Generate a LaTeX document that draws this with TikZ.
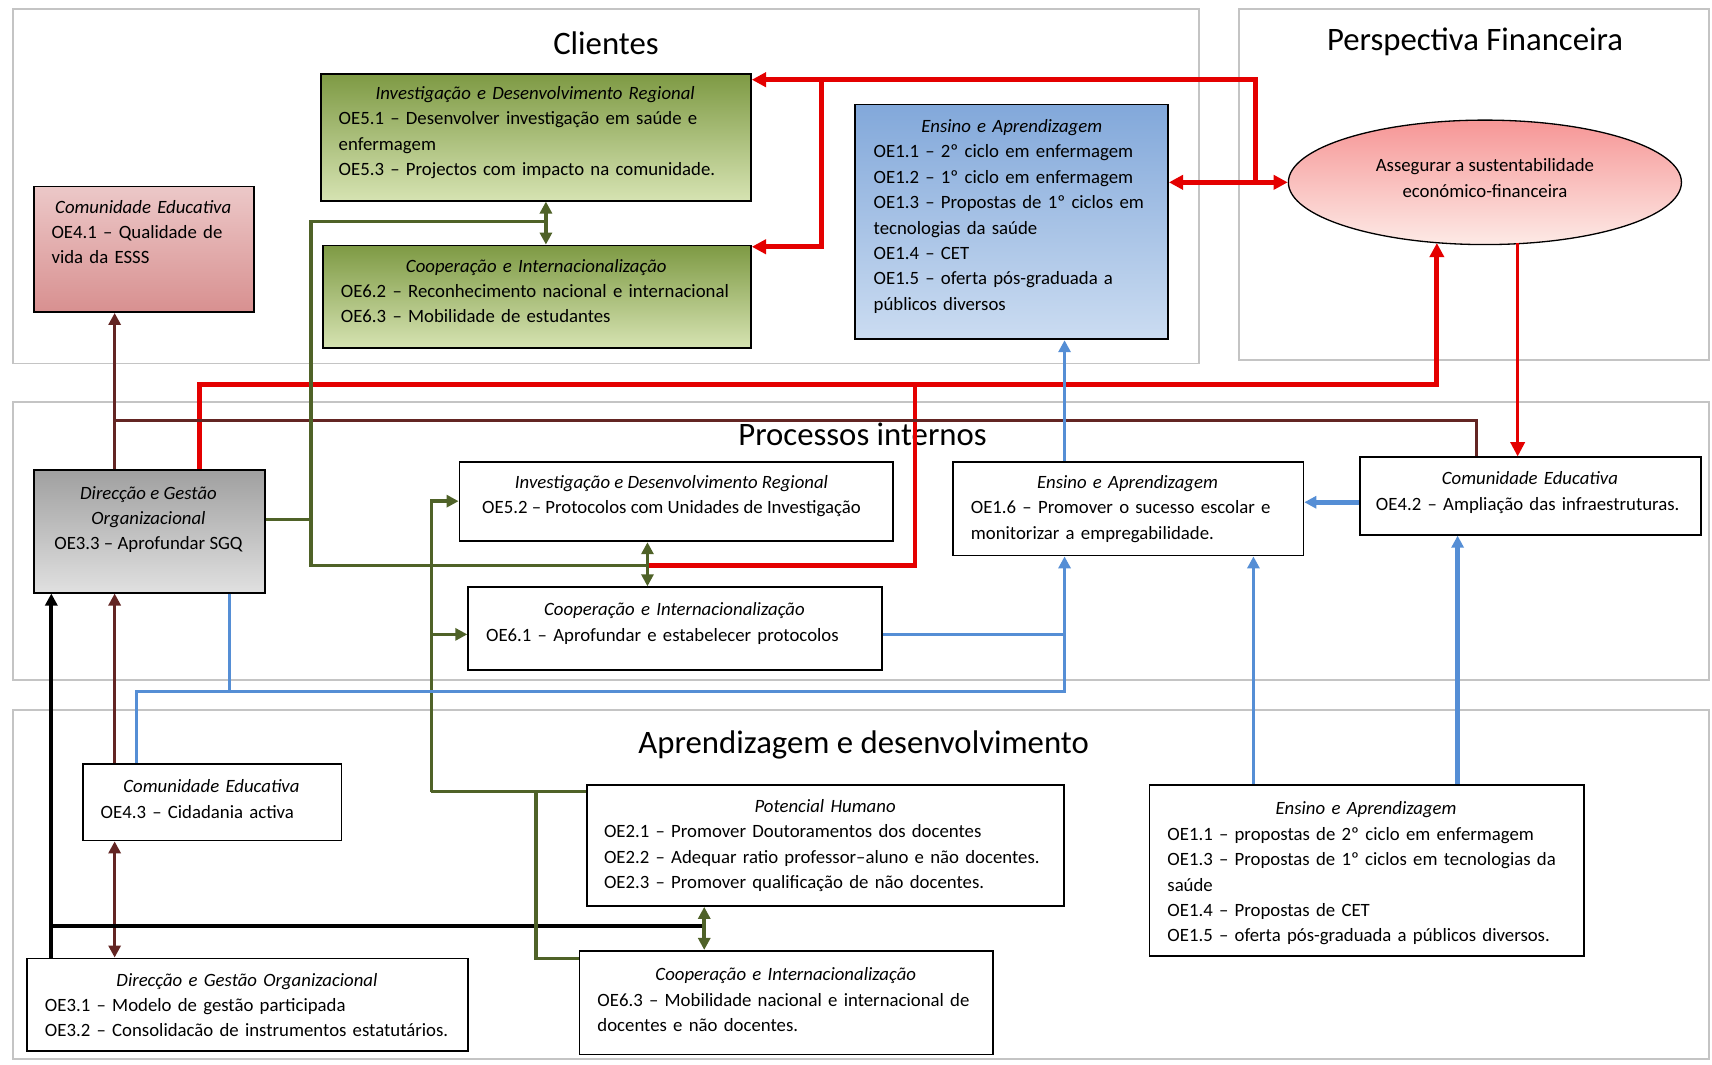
\documentclass[tikz,border=0pt]{standalone}
\usepackage{fontspec}
\setmainfont{Carlito}
\usetikzlibrary{arrows.meta,shapes.geometric,calc}
\definecolor{cred}{RGB}{228,0,0}
\definecolor{cmar}{RGB}{99,37,35}
\definecolor{cgrn}{RGB}{79,98,40}
\definecolor{cblu}{RGB}{85,142,213}
\definecolor{gtop}{RGB}{126,154,68}
\definecolor{gbot}{RGB}{214,227,178}
\definecolor{btop}{RGB}{130,168,218}
\definecolor{bbot}{RGB}{203,220,241}
\definecolor{ptop}{RGB}{236,200,200}
\definecolor{pbot}{RGB}{216,144,144}
\definecolor{gytop}{RGB}{160,160,160}
\definecolor{gybot}{RGB}{224,224,224}
\definecolor{etop}{RGB}{246,150,150}
\definecolor{ebot}{RGB}{253,234,230}
\definecolor{cpan}{RGB}{196,196,196}
\newcommand\mybody{\fontsize{17.2}{23.3}\selectfont}
\newcommand\myhead{\fontsize{30}{34}\selectfont}
\begin{document}
\begin{tikzpicture}[x=1pt,y=-1pt,
  panel/.style={draw=cpan,line width=1.5pt},
  ptitle/.style={font=\myhead,inner sep=0pt},
  box/.style={draw=black,line width=1.6pt,anchor=north west,inner sep=0pt},
  txt/.style={anchor=north west,inner sep=0pt,align=left,font=\mybody},
  ctxt/.style={anchor=north,inner sep=0pt,align=center,font=\mybody},
  redthick/.style={draw=cred,line width=4.5pt},
  redthin/.style={draw=cred,line width=2.6pt},
  mar/.style={draw=cmar,line width=3pt},
  blk/.style={draw=black,line width=3.6pt},
  grn/.style={draw=cgrn,line width=3.2pt},
  blu/.style={draw=cblu,line width=2.8pt},
  bluthick/.style={draw=cblu,line width=4.2pt},
  tip/.style={-{Triangle[length=11pt,width=11pt]}},
  tips/.style={{Triangle[length=11pt,width=11pt]}-{Triangle[length=11pt,width=11pt]}},
  rtip/.style={-{Triangle[length=13pt,width=13pt]}},
  rtips/.style={{Triangle[length=13pt,width=13pt]}-{Triangle[length=13pt,width=13pt]}}]
\useasboundingbox[fill=white] (0,0) rectangle (1568,975);

% panels
\draw[panel] (12,8) rectangle (1098,333);
\draw[panel] (1135,8) rectangle (1565,330);
\draw[panel] (12,368) rectangle (1565,623);
\draw[panel] (12,650) rectangle (1565,970);
\node[ptitle] (tcli) at (555,40) {Clientes};
\node[ptitle] (tfin) at (1351,38) {Perspectiva Financeira};
\node[ptitle] (tpro) at (790,398) {Processos internos};
\node[ptitle] (tapr) at (791,682) {Aprendizagem e desenvolvimento};

% ---------- Clientes
\node[box,top color=ptop,bottom color=pbot,minimum width=202pt,minimum height=115pt] (ce1) at (30,170) {};
\node[txt,text width=168pt] (tce1) at (47,183) {\makebox[\linewidth]{\itshape Comunidade Educativa}\\OE4.1 – Qualidade de\\vida da ESSS};

\node[box,top color=gtop,bottom color=gbot,minimum width=394pt,minimum height=116pt] (cinv) at (293,67) {};
\node[txt,text width=360pt] (tcinv) at (310,79) {\makebox[\linewidth]{\itshape Investigação e Desenvolvimento Regional}\\OE5.1 – Desenvolver investigação em saúde e\\enfermagem\\OE5.3 – Projectos com impacto na comunidade.};

\node[box,top color=gtop,bottom color=gbot,minimum width=392pt,minimum height=94pt] (ccoop) at (295,224) {};
\node[txt,text width=358pt] (tccoop) at (312,237) {\makebox[\linewidth]{\itshape Cooperação e Internacionalização}\\OE6.2 – Reconhecimento nacional e internacional\\OE6.3 – Mobilidade de estudantes};

\node[box,top color=btop,bottom color=bbot,minimum width=287pt,minimum height=215pt] (cens) at (782,95) {};
\node[txt,text width=253pt] (tcens) at (800,109) {\makebox[\linewidth]{\itshape Ensino e Aprendizagem}\\OE1.1 – 2º ciclo em enfermagem\\OE1.2 – 1º ciclo em enfermagem\\\makebox[\linewidth][s]{OE1.3 – Propostas de 1º ciclos em}\\tecnologias da saúde\\OE1.4 – CET\\\makebox[\linewidth][s]{OE1.5 – oferta pós-graduada a}\\públicos diversos};

\node[ellipse,draw=black,line width=1.2pt,top color=etop,bottom color=ebot,minimum width=360pt,minimum height=114pt,inner sep=0pt] (ell) at (1360,167) {};
\node[ctxt] (tell) at (1360,145) {Assegurar a sustentabilidade\\económico-financeira};

% ---------- Processos internos
\node[box,top color=gytop,bottom color=gybot,minimum width=212pt,minimum height=112pt] (dgo) at (30,430) {};
\node[ctxt] (tdgo) at (136,445) {\itshape Direcção e Gestão\\\itshape Organizacional\\OE3.3 – Aprofundar SGQ};

\node[box,fill=white,minimum width=397pt,minimum height=73pt] (pinv) at (420,422) {};
\node[ctxt] (tpinv) at (615,435) {\itshape Investigação e Desenvolvimento Regional\\OE5.2 – Protocolos com Unidades de Investigação};

\node[box,fill=white,minimum width=379pt,minimum height=76pt] (pcoop) at (428,537) {};
\node[txt,text width=345pt] (tpcoop) at (445,552) {\makebox[\linewidth]{\itshape Cooperação e Internacionalização}\\OE6.1 – Aprofundar e estabelecer protocolos};

\node[box,fill=white,minimum width=321pt,minimum height=86pt] (pens) at (872,422) {};
\node[txt,text width=287pt] (tpens) at (889,435) {\makebox[\linewidth]{\itshape Ensino e Aprendizagem}\\OE1.6 – Promover o sucesso escolar e\\monitorizar a empregabilidade.};

\node[box,fill=white,minimum width=312pt,minimum height=71pt] (pedu) at (1245,418) {};
\node[txt,text width=282pt] (tpedu) at (1260,432) {\makebox[\linewidth]{\itshape Comunidade Educativa}\\OE4.2 – Ampliação das infraestruturas.};

% ---------- Aprendizagem e desenvolvimento
\node[box,fill=white,minimum width=237pt,minimum height=70pt] (ce3) at (75,699) {};
\node[txt,text width=203pt] (tce3) at (92,714) {\makebox[\linewidth]{\itshape Comunidade Educativa}\\OE4.3 – Cidadania activa};

\node[box,fill=white,minimum width=437pt,minimum height=111pt] (ph) at (537,718) {};
\node[txt,text width=405pt] (tph) at (553,732) {\makebox[\linewidth]{\itshape Potencial Humano}\\OE2.1 – Promover Doutoramentos dos docentes\\OE2.2 – Adequar ratio professor–aluno e não docentes.\\OE2.3 – Promover qualificação de não docentes.};

\node[box,fill=white,minimum width=404pt,minimum height=85pt] (dgo2) at (24,877) {};
\node[txt,text width=370pt] (tdgo2) at (41,891) {\makebox[\linewidth]{\itshape Direcção e Gestão Organizacional}\\OE3.1 – Modelo de gestão participada\\OE3.2 – Consolidacão de instrumentos estatutários.};

\node[box,fill=white,minimum width=379pt,minimum height=95pt] (acoop) at (530,870) {};
\node[txt,text width=345pt] (tacoop) at (547,886) {\makebox[\linewidth]{\itshape Cooperação e Internacionalização}\\OE6.3 – Mobilidade nacional e internacional de\\docentes e não docentes.};

\node[box,fill=white,minimum width=398pt,minimum height=157pt] (aens) at (1052,718) {};
\node[txt,text width=364pt] (taens) at (1069,734) {\makebox[\linewidth]{\itshape Ensino e Aprendizagem}\\OE1.1 – propostas de 2º ciclo em enfermagem\\\makebox[\linewidth][s]{OE1.3 – Propostas de 1º ciclos em tecnologias da}\\saúde\\OE1.4 – Propostas de CET\\OE1.5 – oferta pós-graduada a públicos diversos.};

% ---------- coordinates
\coordinate (rj) at (1150,167);
\coordinate (rt) at (1150,73);
\coordinate (rm) at (752,73);
\coordinate (rm2) at (752,226);
\coordinate (ra) at (183,352);
\coordinate (rb) at (1316,352);
\coordinate (rc) at (838,352);
\coordinate (rd) at (838,518);
\coordinate (gj) at (593,518);
\coordinate (re) at (1390,223);
\coordinate (ma) at (105,385);
\coordinate (mb) at (1352,385);
\coordinate (ka) at (47,848);
\coordinate (gk) at (645,848);
\coordinate (ga) at (285,203);
\coordinate (gb) at (285,518);
\coordinate (gc) at (285,476);
\coordinate (gd) at (500,203);
\coordinate (ge) at (395,459);
\coordinate (gf) at (395,581);
\coordinate (gg) at (395,725);
\coordinate (gh) at (491,725);
\coordinate (gi) at (491,878);
\coordinate (bx) at (975,581);
\coordinate (bz) at (975,633);
\coordinate (bw) at (125,633);
\coordinate (bv) at (210,633);
\coordinate (by) at (1220,460);
\coordinate (bu) at (1148,600);
\coordinate (bt) at (1335,600);

% ---------- red connectors
\draw[redthick,rtips] (cens.east |- ell.west) -- (ell.west);
\draw[redthick,rtip] (rj) -- (rt) -- (rt -| cinv.east);
\draw[redthick,rtip] (rm) -- (rm2) -- (rm2 -| ccoop.east);
\draw[redthick,rtip] (dgo.north -| ra) -- (ra) -- (rb) -- ($(rb |- ell.south)+(0,-2)$);
\draw[redthick] (rc) -- (rd) -- (gj);
\draw[redthin,rtip] (re) -- (re |- pedu.north);

% ---------- maroon connectors
\draw[mar,tip] (dgo.north -| ma) -- (ce1.south -| ma);
\draw[mar] (ma) -- (mb) -- (mb |- pedu.north);
\draw[mar,tip] (ce3.north -| ma) -- (dgo.south -| ma);
\draw[mar,tips] (ce3.south -| ma) -- (dgo2.north -| ma);

% ---------- black connectors
\draw[blk,tip] (dgo2.north -| ka) -- (dgo.south -| ka);
\draw[blk] (ka) -- (gk);

% ---------- green connectors
\draw[grn] (gc -| dgo.east) -- (gc);
\draw[grn] (gd) -- (ga) -- (gb) -- (gj);
\draw[grn,tips] (cinv.south -| gd) -- (ccoop.north -| gd);
\draw[grn,tips] (pinv.south -| gj) -- (pcoop.north -| gj);
\draw[grn,tip] (gg) -- (ge) -- (ge -| pinv.west);
\draw[grn,tip] (gf) -- (gf -| pcoop.west);
\draw[grn] (gg) -- (gg -| ph.west);
\draw[grn] (gh) -- (gi) -- (gi -| acoop.west);
\draw[grn,tips] (ph.south -| gk) -- (acoop.north -| gk);

% ---------- blue connectors
\draw[blu,tip] (pens.north -| bx) -- (cens.south -| bx);
\draw[bluthick,tip] (by -| pedu.west) -- (by -| pens.east);
\draw[blu,tip] (bx -| pcoop.east) -- (bx) -- (bx |- pens.south);
\draw[blu] (ce3.north -| bw) -- (bw) -- (bz) -- (bx);
\draw[blu] (dgo.south -| bv) -- (bv);
\draw[blu,tip] (aens.north -| bu) -- (pens.south -| bu);
\draw[bluthick,tip] (aens.north -| bt) -- (pedu.south -| bt);
\end{tikzpicture}
\end{document}
